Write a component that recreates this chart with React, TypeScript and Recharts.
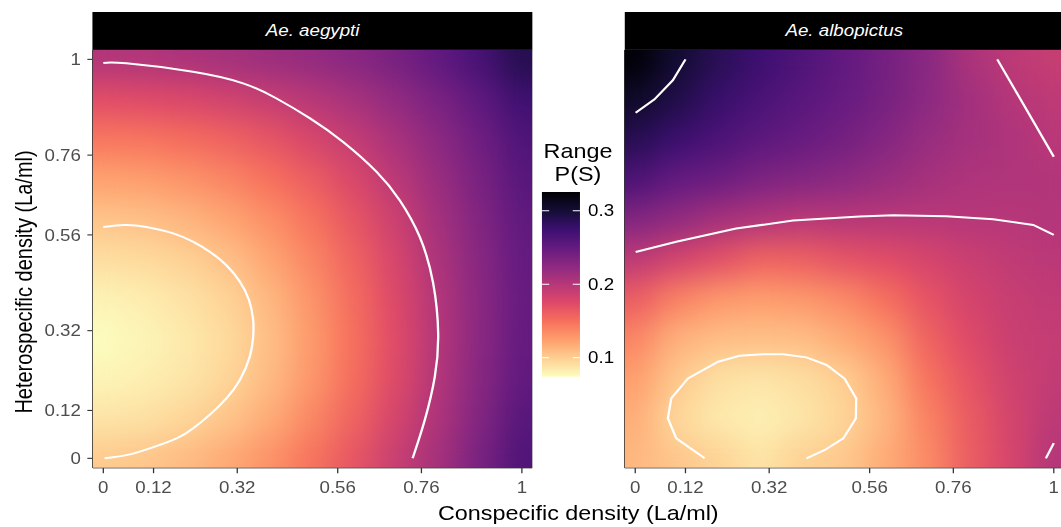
import React from "react";
import {
  ComposedChart,
  Scatter,
  XAxis,
  YAxis,
  ReferenceArea,
  ReferenceLine,
} from "recharts";

// grid of the surface (conspecific x, heterospecific y), shared by both panels
const GRID_X = [0, 0.1, 0.2, 0.3, 0.4, 0.5, 0.6, 0.7, 0.8, 0.9, 1];
const GRID_Y = [0, 0.1, 0.2, 0.3, 0.4, 0.5, 0.6, 0.7, 0.8, 0.9, 1];

// Range P(S), one row per heterospecific density (bottom row first)
const AEGYPTI_PS = [
  [0.102, 0.104, 0.11, 0.119, 0.132, 0.148, 0.167, 0.189, 0.21, 0.237, 0.263],
  [0.088, 0.09, 0.096, 0.105, 0.118, 0.137, 0.158, 0.181, 0.205, 0.232, 0.258],
  [0.079, 0.082, 0.087, 0.096, 0.11, 0.129, 0.152, 0.175, 0.202, 0.228, 0.252],
  [0.074, 0.079, 0.085, 0.093, 0.108, 0.127, 0.15, 0.174, 0.201, 0.226, 0.25],
  [0.08, 0.083, 0.089, 0.097, 0.112, 0.13, 0.153, 0.176, 0.202, 0.226, 0.249],
  [0.091, 0.093, 0.098, 0.107, 0.121, 0.138, 0.158, 0.18, 0.206, 0.228, 0.25],
  [0.105, 0.107, 0.113, 0.121, 0.133, 0.148, 0.167, 0.187, 0.211, 0.232, 0.253],
  [0.123, 0.125, 0.13, 0.138, 0.149, 0.162, 0.178, 0.197, 0.217, 0.237, 0.258],
  [0.146, 0.147, 0.152, 0.158, 0.167, 0.179, 0.192, 0.208, 0.225, 0.243, 0.263],
  [0.172, 0.174, 0.177, 0.183, 0.19, 0.199, 0.209, 0.222, 0.236, 0.253, 0.273],
  [0.203, 0.204, 0.207, 0.211, 0.216, 0.221, 0.228, 0.238, 0.252, 0.268, 0.29],
];

const ALBOPICTUS_PS = [
  [0.112, 0.104, 0.097, 0.088, 0.098, 0.103, 0.118, 0.135, 0.162, 0.18, 0.202],
  [0.117, 0.095, 0.085, 0.081, 0.087, 0.096, 0.113, 0.14, 0.163, 0.182, 0.197],
  [0.125, 0.103, 0.09, 0.087, 0.091, 0.1, 0.118, 0.148, 0.168, 0.185, 0.193],
  [0.138, 0.115, 0.108, 0.107, 0.108, 0.118, 0.13, 0.158, 0.175, 0.188, 0.192],
  [0.162, 0.14, 0.128, 0.125, 0.128, 0.135, 0.15, 0.168, 0.181, 0.19, 0.194],
  [0.195, 0.182, 0.17, 0.158, 0.16, 0.168, 0.173, 0.18, 0.188, 0.194, 0.198],
  [0.232, 0.222, 0.21, 0.203, 0.198, 0.199, 0.199, 0.199, 0.2, 0.2, 0.202],
  [0.265, 0.25, 0.245, 0.235, 0.23, 0.225, 0.217, 0.21, 0.205, 0.204, 0.203],
  [0.288, 0.275, 0.265, 0.255, 0.248, 0.24, 0.23, 0.218, 0.21, 0.205, 0.198],
  [0.308, 0.292, 0.277, 0.266, 0.257, 0.248, 0.238, 0.225, 0.212, 0.201, 0.195],
  [0.325, 0.303, 0.287, 0.274, 0.263, 0.252, 0.24, 0.227, 0.207, 0.196, 0.19],
];

// contour lines [conspecific, heterospecific]
const AEGYPTI_C010 = [
  [0, 0.58], [0.051, 0.585], [0.103, 0.58], [0.167, 0.564], [0.214, 0.543],
  [0.254, 0.518], [0.294, 0.484], [0.326, 0.443], [0.348, 0.397], [0.358, 0.347],
  [0.358, 0.305], [0.35, 0.255], [0.326, 0.196], [0.294, 0.15], [0.254, 0.109],
  [0.214, 0.075], [0.175, 0.05], [0.111, 0.025], [0.055, 0.008], [0.003, 0],
];
const AEGYPTI_C020 = [
  [0, 0.991], [0.055, 0.99], [0.214, 0.969], [0.334, 0.94], [0.414, 0.902],
  [0.494, 0.852], [0.573, 0.793], [0.653, 0.718], [0.708, 0.647], [0.756, 0.555],
  [0.788, 0.439], [0.8, 0.313], [0.792, 0.205], [0.768, 0.096], [0.739, 0],
];
const ALBOPICTUS_C030 = [[0.001, 0.866], [0.046, 0.9], [0.09, 0.948], [0.12, 1]];
const ALBOPICTUS_C020_TOP = [[0.865, 1], [1, 0.756]];
const ALBOPICTUS_C020_MID = [
  [0.001, 0.517], [0.098, 0.543], [0.241, 0.576], [0.377, 0.596], [0.536, 0.606],
  [0.616, 0.609], [0.743, 0.607], [0.855, 0.599], [0.951, 0.585], [1, 0.56],
];
const ALBOPICTUS_C020_CORNER = [[0.981, 0], [1, 0.038]];
const ALBOPICTUS_C010 = [
  [0.166, 0], [0.098, 0.05], [0.078, 0.1], [0.086, 0.15], [0.126, 0.2],
  [0.198, 0.242], [0.249, 0.257], [0.305, 0.261], [0.353, 0.261], [0.409, 0.253],
  [0.457, 0.234], [0.5, 0.2], [0.528, 0.15], [0.527, 0.1], [0.497, 0.05],
  [0.453, 0.021], [0.409, 0],
];

const AXIS_TICKS = [0, 0.12, 0.32, 0.56, 0.76, 1];
const LEGEND_TICKS = [0.1, 0.2, 0.3];
const PS_LIMITS = [0.0741, 0.3254];

// the picture is stretched horizontally, so everything is laid out narrower and scaled
const SX = 1.17;
const W = 1061 / SX;
const H = 527;
const PLOT_TOP = 50;
const PLOT_H = 417.7;
const PLOT_W = 375.64;
const X_DOMAIN = [-0.025, 1.025];
const Y_DOMAIN = [-0.0235, 1.0235];
const CELL_W = (0.1 * PLOT_W) / 1.05 + 0.8;
const CELL_H = (0.1 * PLOT_H) / 1.047 + 0.8;
const FONT = "'Liberation Sans', Arial, Helvetica, sans-serif";

const MAGMA = [
  "#000004", "#140E36", "#3B0F70", "#641A80", "#8C2981", "#B73779",
  "#DE4968", "#F7705C", "#FE9F6D", "#FECF92", "#FCFDBF",
];

const hexToRgb = (h: string) => [
  parseInt(h.slice(1, 3), 16),
  parseInt(h.slice(3, 5), 16),
  parseInt(h.slice(5, 7), 16),
];

const magma = (t: number) => {
  const c = Math.max(0, Math.min(1, t)) * 10;
  const i = Math.min(9, Math.floor(c));
  const f = c - i;
  const a = hexToRgb(MAGMA[i]);
  const b = hexToRgb(MAGMA[i + 1]);
  const m = a.map((v, k) => Math.round(v + (b[k] - v) * f));
  return `rgb(${m[0]},${m[1]},${m[2]})`;
};

const fillFor = (v: number) =>
  magma(1 - (v - PS_LIMITS[0]) / (PS_LIMITS[1] - PS_LIMITS[0]));

const toCells = (grid: number[][]) =>
  GRID_Y.flatMap((y, r) => GRID_X.map((x, c) => ({ x, y, v: grid[r][c] })));

const toPoints = (pts: number[][]) => pts.map(([x, y]) => ({ x, y }));

const HeatCell = (props: any) => {
  const { cx, cy, payload } = props;
  if (cx == null || cy == null) return <g />;
  return (
    <rect
      x={cx - CELL_W / 2}
      y={cy - CELL_H / 2}
      width={CELL_W}
      height={CELL_H}
      fill={fillFor(payload.v)}
    />
  );
};

const NoDot = () => <g />;

interface PanelProps {
  left: number;
  axisW: number;
  grid: number[][];
  contours: number[][][];
  curve: "natural" | "linear";
  heatClass: string;
  label: string;
  showYTicks: boolean;
}

const Panel = ({ left, axisW, grid, contours, curve, heatClass, label, showYTicks }: PanelProps) => (
  <div style={{ position: "absolute", left, top: 0 }}>
    <div
      style={{
        position: "absolute",
        left: axisW,
        top: 12,
        width: PLOT_W,
        height: 38,
        background: "#000",
        color: "#fff",
        fontStyle: "italic",
        fontSize: 16,
        display: "flex",
        alignItems: "center",
        justifyContent: "center",
      }}
    >
      {label}
    </div>
    <ComposedChart
      width={axisW + PLOT_W}
      height={H}
      margin={{ top: PLOT_TOP, right: 0, bottom: 0, left: 0 }}
    >
      <XAxis
        type="number"
        dataKey="x"
        domain={X_DOMAIN}
        ticks={AXIS_TICKS}
        interval={0}
        allowDataOverflow
        height={H - PLOT_TOP - PLOT_H}
        tickSize={5.5}
        tickMargin={8.5}
        tickFormatter={(v) => String(v)}
        tick={{ fill: "#4D4D4D", fontSize: 16 }}
        tickLine={{ stroke: "#333333", strokeWidth: 1.1 }}
        axisLine={{ stroke: "#333333", strokeWidth: 1.3 }}
      />
      <YAxis
        type="number"
        dataKey="y"
        domain={Y_DOMAIN}
        ticks={AXIS_TICKS}
        interval={0}
        allowDataOverflow
        width={axisW}
        tickSize={showYTicks ? 4.7 : 0}
        tickMargin={5.5}
        tickFormatter={(v) => String(v)}
        tick={showYTicks ? { fill: "#4D4D4D", fontSize: 16 } : false}
        tickLine={showYTicks ? { stroke: "#333333", strokeWidth: 1.1 } : false}
        axisLine={{ stroke: "#333333", strokeWidth: 1.3 }}
      />
      <Scatter
        className={heatClass}
        data={toCells(grid)}
        shape={HeatCell}
        isAnimationActive={false}
      />
      {contours.map((c, i) => (
        <Scatter
          key={i}
          data={toPoints(c)}
          shape={NoDot}
          line={{ stroke: "#ffffff", strokeWidth: 2 }}
          lineJointType={curve}
          isAnimationActive={false}
        />
      ))}
      <ReferenceArea
        x1={X_DOMAIN[0]}
        x2={X_DOMAIN[1]}
        y1={Y_DOMAIN[0]}
        y2={Y_DOMAIN[1]}
        fill="none"
        stroke="#333333"
        strokeWidth={0.8}
        ifOverflow="visible"
      />
    </ComposedChart>
  </div>
);

const AEG_AXIS_W = 79.36;
const ALB_AXIS_W = 14;
const ALB_LEFT = 533.8 - ALB_AXIS_W;

const blurFilter = (id: string, x: number) => (
  <filter
    id={id}
    filterUnits="userSpaceOnUse"
    x={x}
    y={PLOT_TOP}
    width={PLOT_W}
    height={PLOT_H}
    colorInterpolationFilters="sRGB"
  >
    <feGaussianBlur stdDeviation="13 15" edgeMode="duplicate" />
    <feComponentTransfer>
      <feFuncA type="linear" slope="0" intercept="1" />
    </feComponentTransfer>
  </filter>
);

// colour bar: one range bar spanning the colour scale limits
const LEGEND_DATA = [{ x: 0.5, range: PS_LIMITS }];

const Legend = () => (
  <div style={{ position: "absolute", left: 440, top: 0 }}>
    <ComposedChart
      width={100}
      height={H}
      data={LEGEND_DATA}
      margin={{ top: 192, right: 0, bottom: H - 376.7, left: 23.2 }}
    >
      <defs>
        <linearGradient id="psGradient" x1="0" y1="1" x2="0" y2="0">
          {MAGMA.map((c, i) => (
            <stop key={i} offset={i / 10} stopColor={MAGMA[10 - i]} />
          ))}
        </linearGradient>
      </defs>
      <XAxis type="number" dataKey="x" domain={[0, 1]} hide />
      <YAxis
        type="number"
        orientation="right"
        domain={PS_LIMITS}
        allowDataOverflow
        ticks={LEGEND_TICKS}
        width={44.3}
        tickSize={0}
        tickMargin={6.9}
        axisLine={false}
        tickLine={false}
        tick={{ fill: "#000", fontSize: 16 }}
      />
      <ReferenceArea
        x1={0}
        x2={1}
        y1={PS_LIMITS[0]}
        y2={PS_LIMITS[1]}
        fill="url(#psGradient)"
        fillOpacity={1}
        ifOverflow="visible"
      />
      {LEGEND_TICKS.map((t) => (
        <ReferenceLine
          key={`l${t}`}
          segment={[{ x: 0, y: t }, { x: 0.19, y: t }]}
          stroke="#ffffff"
          strokeWidth={1}
          ifOverflow="visible"
        />
      ))}
      {LEGEND_TICKS.map((t) => (
        <ReferenceLine
          key={`r${t}`}
          segment={[{ x: 0.81, y: t }, { x: 1, y: t }]}
          stroke="#ffffff"
          strokeWidth={1}
          ifOverflow="visible"
        />
      ))}
    </ComposedChart>
  </div>
);

export default function App() {
  return (
    <div
      style={{
        position: "absolute",
        left: 0,
        top: 0,
        width: 1061,
        height: H,
        overflow: "hidden",
        background: "#fff",
      }}
    >
      <style>{`.heat-aeg{filter:url(#blurAeg);}.heat-alb{filter:url(#blurAlb);}`}</style>
      <svg width={0} height={0} style={{ position: "absolute" }}>
        <defs>
          {blurFilter("blurAeg", AEG_AXIS_W)}
          {blurFilter("blurAlb", ALB_AXIS_W)}
        </defs>
      </svg>
      <div
        style={{
          position: "absolute",
          left: 0,
          top: 0,
          width: W,
          height: H,
          transform: `scaleX(${SX})`,
          transformOrigin: "0 0",
          fontFamily: FONT,
        }}
      >
        <Panel
          left={0}
          axisW={AEG_AXIS_W}
          grid={AEGYPTI_PS}
          contours={[AEGYPTI_C010, AEGYPTI_C020]}
          curve="natural"
          heatClass="heat-aeg"
          label="Ae. aegypti"
          showYTicks
        />
        <Panel
          left={ALB_LEFT}
          axisW={ALB_AXIS_W}
          grid={ALBOPICTUS_PS}
          contours={[
            ALBOPICTUS_C030,
            ALBOPICTUS_C020_TOP,
            ALBOPICTUS_C020_MID,
            ALBOPICTUS_C020_CORNER,
            ALBOPICTUS_C010,
          ]}
          curve="linear"
          heatClass="heat-alb"
          label="Ae. albopictus"
          showYTicks={false}
        />
        <Legend />
        <svg
          width={W}
          height={H}
          style={{ position: "absolute", left: 0, top: 0, pointerEvents: "none" }}
        >
          <text x={494.3} y={520} textAnchor="middle" fontSize={20} fill="#000">
            Conspecific density (La/ml)
          </text>
          <text
            x={0}
            y={0}
            transform={`translate(27.1, 282) rotate(-90)`}
            textAnchor="middle"
            fontSize={20}
            fill="#000"
          >
            Heterospecific density (La/ml)
          </text>
          <text x={494} y={158.3} textAnchor="middle" fontSize={20} fill="#000">
            Range
          </text>
          <text x={494} y={181} textAnchor="middle" fontSize={20} fill="#000">
            P(S)
          </text>
        </svg>
      </div>
    </div>
  );
}
